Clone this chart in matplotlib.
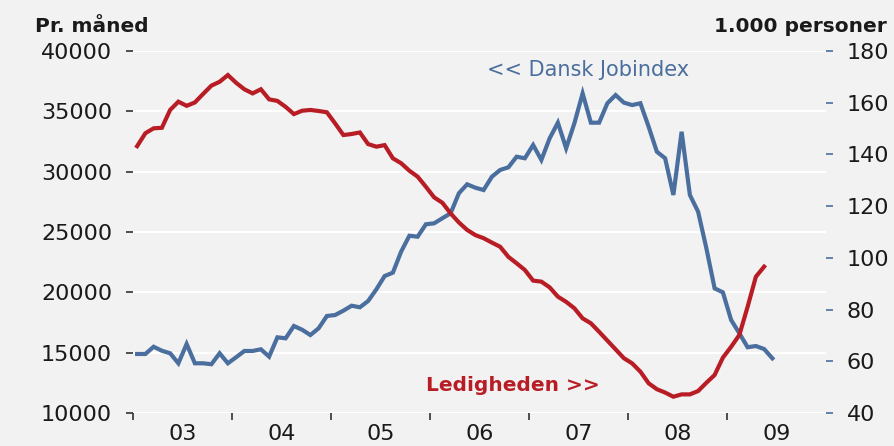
import numpy as np
import matplotlib.pyplot as plt

# monthly data, Jan 2003 onwards
jobindex = [14890, 14890, 15490, 15160, 14950, 14120, 15720, 14120, 14120, 14040,
            14950, 14120, 14620, 15140, 15140, 15280, 14670, 16270, 16190, 17210,
            16900, 16460, 17020, 18040, 18120, 18480, 18890, 18760, 19280, 20250,
            21350, 21630, 23370, 24690, 24610, 25640, 25720, 26140, 26550, 28210,
            28950, 28670, 28480, 29580, 30140, 30360, 31240, 31110, 32210, 30970,
            32760, 34060, 31940, 34010, 36490, 34060, 34060, 35670, 36350, 35720,
            35520, 35670, 33730, 31650, 31110, 28070, 33310, 28070, 26680, 23650,
            20330, 20000, 17710, 16600, 15450, 15550, 15300, 14530]

ledige = [143.2, 148.2, 150.1, 150.3, 157.2, 160.4, 158.8, 160.1, 163.4, 166.6,
          168.1, 170.7, 167.7, 165.2, 163.6, 165.2, 161.3, 160.7, 158.4, 155.6,
          156.9, 157.2, 156.8, 156.3, 152.0, 147.5, 147.9, 148.5, 144.0, 143.0,
          143.6, 138.5, 136.6, 133.7, 131.4, 127.5, 123.4, 121.3, 117.2, 113.7,
          110.8, 108.8, 107.6, 105.9, 104.3, 100.4, 97.9, 95.3, 91.2, 90.8,
          88.6, 85.0, 83.0, 80.5, 76.6, 74.7, 71.4, 68.0, 64.6, 61.2,
          59.2, 56.0, 51.5, 49.2, 47.9, 46.3, 47.2, 47.2, 48.5, 51.7,
          54.7, 61.4, 65.6, 70.2, 81.1, 92.7, 96.6]

years = ["03", "04", "05", "06", "07", "08", "09"]

bg = "#f2f2f2"
blue = "#4a6e9e"
red = "#b81d25"
txt = "#1a1a1a"

fig = plt.figure(figsize=(8.95, 4.46), dpi=100, facecolor=bg)
ax = fig.add_axes([133/895, 1 - 413/446, 693/895, 362/446])
ax.set_facecolor(bg)
ax2 = ax.twinx()
ax2.patch.set_visible(False)

ax.plot(np.arange(len(jobindex)), jobindex, color=blue, lw=3.0, solid_joinstyle="miter")
ax2.plot(np.arange(len(ledige)), ledige, color=red, lw=3.0, solid_joinstyle="miter")

ax.set_xlim(-0.5, 83.5)
ax.set_ylim(10000, 40000)
ax2.set_ylim(40, 180)

ax.set_yticks(np.arange(10000, 40001, 5000))
ax2.set_yticks(np.arange(40, 181, 20))
ax.grid(axis="y", color="white", lw=1.5)
ax.set_axisbelow(True)

# year boundaries as ticks, labels at mid year
ax.set_xticks(np.arange(-0.5, 72, 12))
ax.set_xticklabels([])
ax.set_xticks(np.arange(5.5, 84, 12), minor=True)
ax.set_xticklabels(years, minor=True)
ax.tick_params(axis="x", which="major", length=5, width=1.2, color="#333333", direction="out")
ax.tick_params(axis="x", which="minor", length=0, pad=8, labelsize=16, labelcolor=txt)

ax.tick_params(axis="y", length=5, width=1.2, color="#333333", pad=10, labelsize=16, labelcolor=txt)
ax2.tick_params(axis="y", length=5, width=1.2, color=blue, pad=10, labelsize=16, labelcolor=txt)

for a in (ax, ax2):
    for s in a.spines.values():
        s.set_visible(False)

fig.text(35/895, 1 - 26/446, "Pr. måned", fontsize=14.5, fontweight="bold",
         color=txt, ha="left", va="center")
fig.text(887/895, 1 - 26/446, "1.000 personer", fontsize=14.5, fontweight="bold",
         color=txt, ha="right", va="center")

ax.text(0.511, 0.9475, "<< Dansk Jobindex", transform=ax.transAxes, fontsize=15,
        color=blue, ha="left", va="center")
ax.text(0.423, 0.077, "Ledigheden >>", transform=ax.transAxes, fontsize=14.5,
        fontweight="bold", color=red, ha="left", va="center")

fig.savefig("out.png", dpi=100, facecolor=bg)
